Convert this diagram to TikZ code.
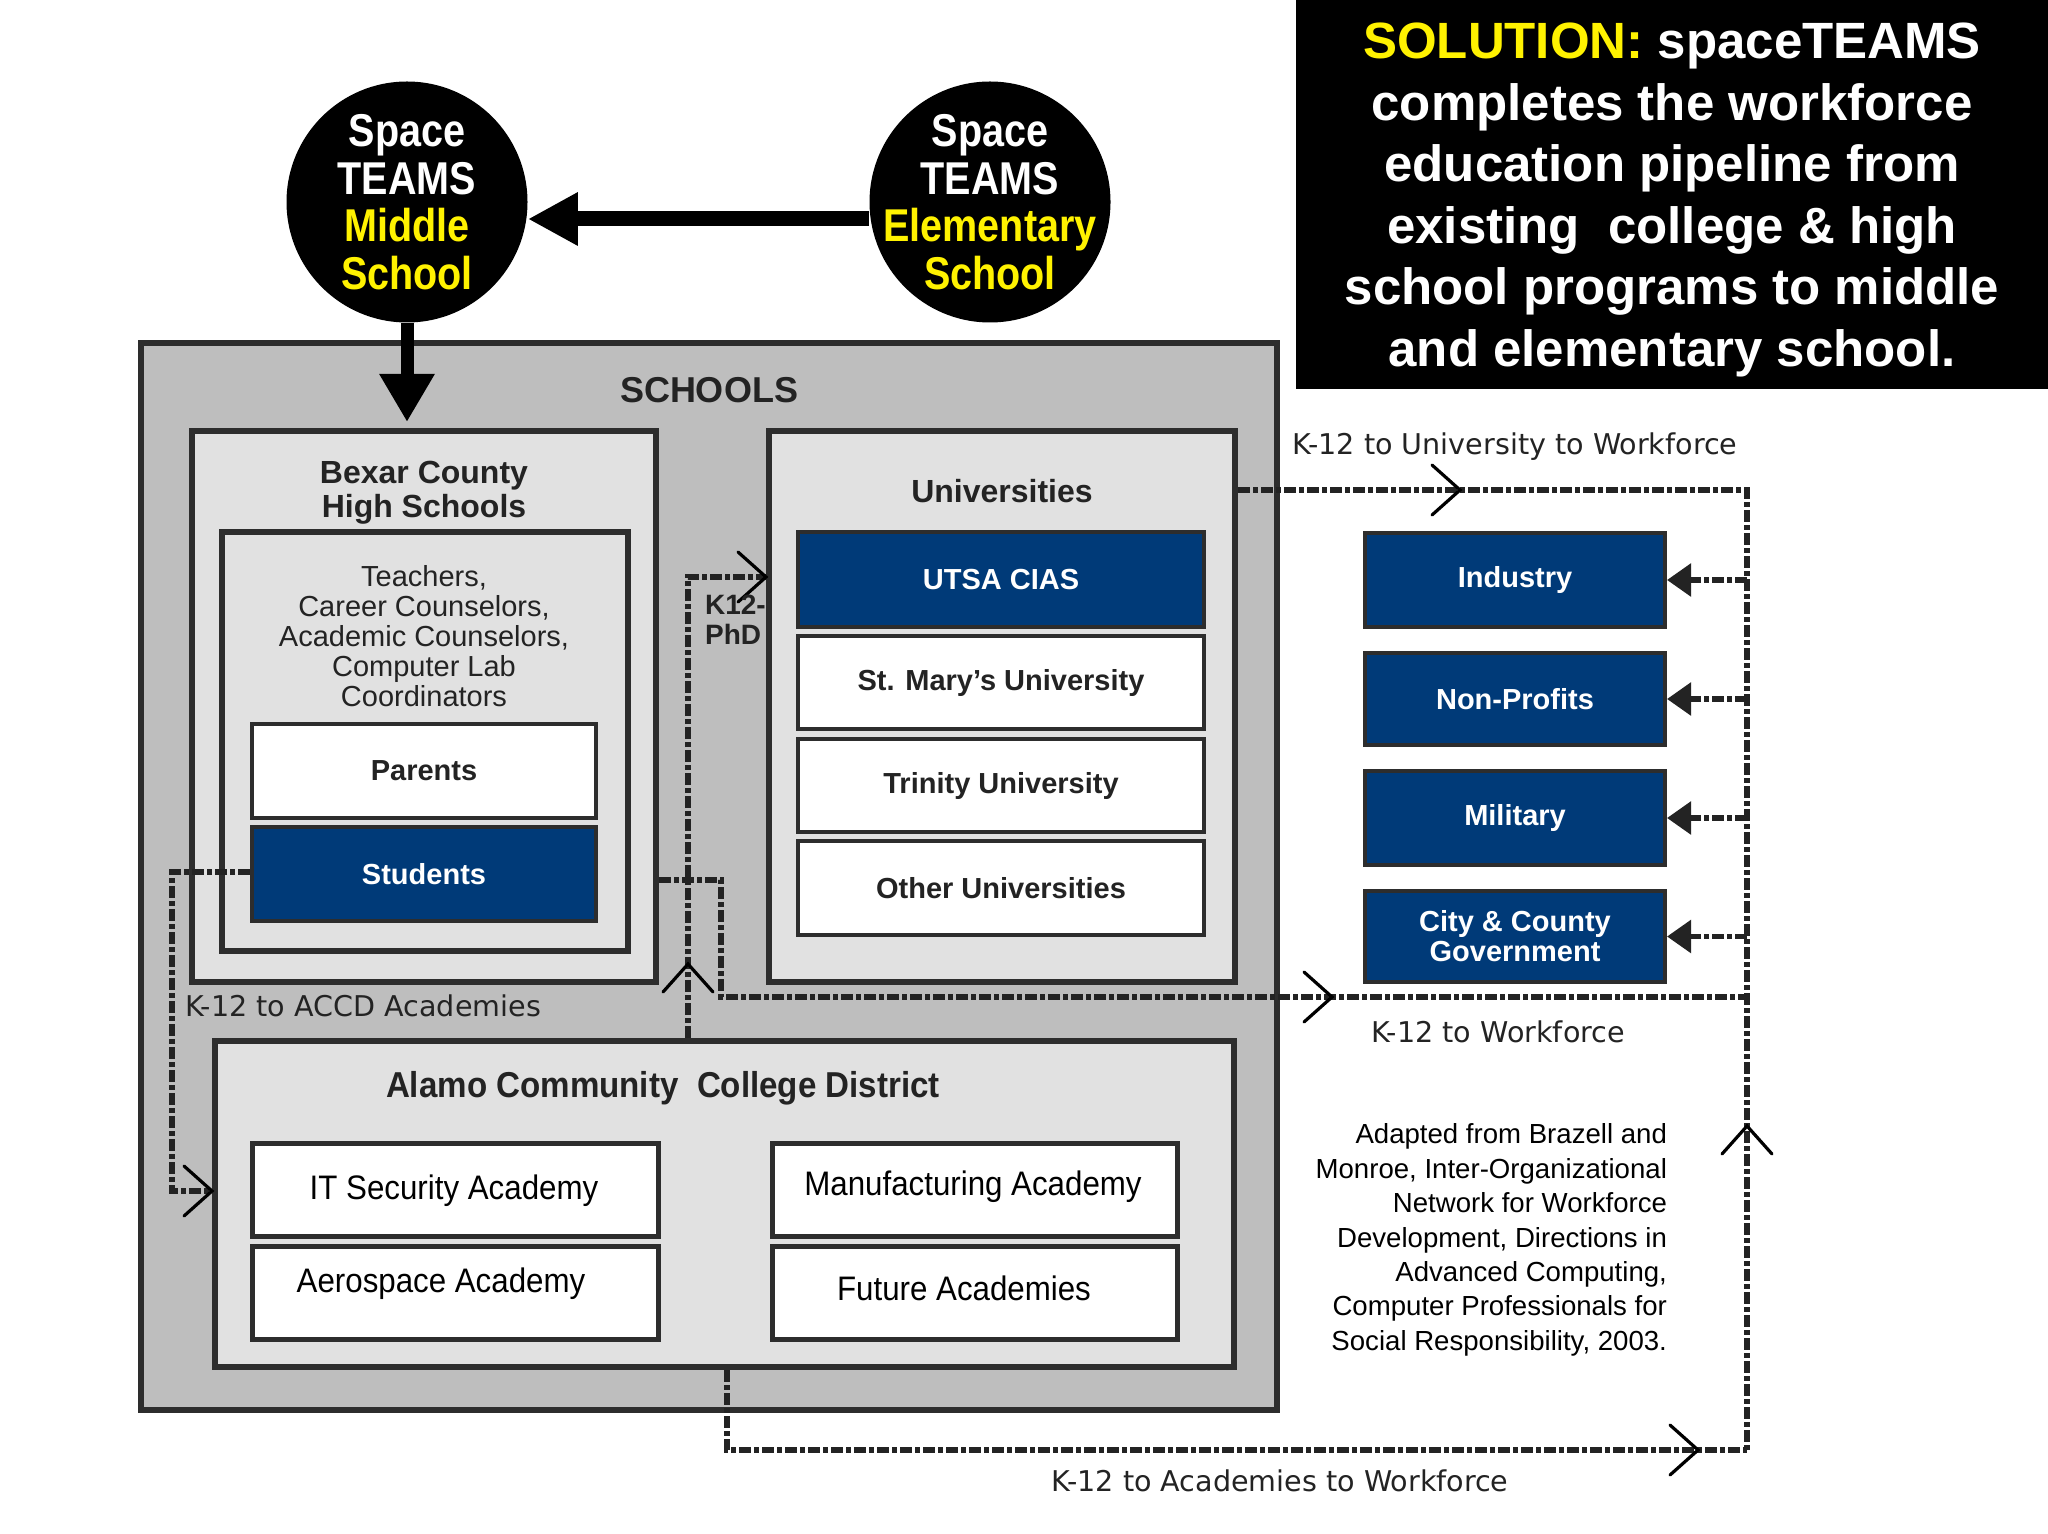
\documentclass[tikz,border=0pt]{standalone}
\usepackage{fontspec}
\setmainfont{Liberation Sans}
\newfontfamily\vfont{DejaVu Sans}
\newfontfamily\circfont{Liberation Sans}[FakeStretch=0.86]
\newfontfamily\acadfont{Liberation Sans}[FakeStretch=0.92]
\usetikzlibrary{arrows.meta,fit}
\definecolor{navyb}{RGB}{0,58,120}
\definecolor{grayout}{RGB}{190,190,190}
\definecolor{graylt}{RGB}{225,225,225}
\definecolor{edgec}{RGB}{45,45,45}
\definecolor{ink}{RGB}{35,35,35}
\tikzset{
  x=0.5pt, y=-0.5pt,
  bx/.style={draw=edgec, inner sep=0pt},
  frm/.style={bx, line width=3pt, fill=graylt},
  wbox/.style={bx, fill=white, line width=2pt},
  nbox/.style={bx, fill=navyb, line width=2pt},
  wtext/.style={text=ink, font=\bfseries\fontsize{14.5}{15}\selectfont, align=center},
  ntext/.style={text=white, font=\bfseries\fontsize{14.5}{15}\selectfont, align=center},
  abox/.style={bx, fill=white, line width=2.5pt},
  atext/.style={text=black, font=\acadfont\fontsize{17}{18}\selectfont},
  hdr/.style={text=ink, font=\bfseries\fontsize{16}{17}\selectfont, align=center},
  lbl/.style={text=ink, font=\vfont\fontsize{14.3}{15}\selectfont},
  circ/.style={circle, fill=black, inner sep=0pt, minimum size=120.5pt},
  circtext/.style={text=white, align=center, font=\circfont\bfseries\fontsize{23}{23.75}\selectfont},
  bigarrow/.style={draw=black, line width=7.5pt, -{Triangle[length=25pt,width=25pt]}},
  downarrow/.style={draw=black, line width=6.5pt, -{Triangle[length=24pt,width=26pt]}},
  dline/.style={draw=ink, line width=2.8pt, dash pattern=on 6pt off 1.5pt on 2.5pt off 1.5pt},
  feed/.style={dline, -{Triangle[length=12pt,width=16pt]}},
  chevline/.style={draw=black, line width=1.6pt, line cap=round, solid},
  chev/.pic={\draw[chevline] (-28,-25) -- (0,0) -- (-28,25);}
}
\begin{document}
\begin{tikzpicture}
\useasboundingbox (0,0) rectangle (2048,1534);
\fill[white] (0,0) rectangle (2048,1534);

% Solution box
\node[fill=black, inner sep=0pt, fit={(1296,0) (2048,389)}] (sol) {};
\node[text=white, align=center, font=\bfseries\fontsize{25.5}{30.75}\selectfont] (soltext) at (1672,200)
  {\textcolor{yellow}{SOLUTION:} spaceTEAMS\\completes the workforce\\education pipeline from\\existing\ \ college \& high\\school programs to middle\\and elementary school.};

% Schools frame
\node[bx, line width=3pt, fill=grayout, fit={(141,343) (1277,1410)}] (schools) {};
\node[text=ink, font=\bfseries\fontsize{18}{20}\selectfont] (schoolslbl) at (709,390) {SCHOOLS};

% Bexar county
\node[frm, fit={(192,431) (656,982)}] (bexar) {};
\node[hdr] (bexarlbl) at (424,493) {Bexar County\\High Schools};
\node[frm, fit={(222,532) (628,951)}] (staff) {};
\node[text=ink, align=center, font=\fontsize{14.5}{15}\selectfont] (stafflbl) at (424,636)
  {Teachers,\\Career Counselors,\\Academic Counselors,\\Computer Lab\\Coordinators};
\node[wbox, fit={(252,724) (596,818)}] (parents) {};
\node[wtext] at (parents.center) {Parents};
\node[nbox, fit={(252,827) (596,921)}] (students) {};
\node[ntext] at (students.center) {Students};

% Universities
\node[frm, fit={(769,431) (1235,982)}] (univ) {};
\node[hdr] (univlbl) at (1002,491) {Universities};
\node[nbox, fit={(798,532) (1204,627)}] (utsa) {};
\node[ntext] at (utsa.center) {UTSA CIAS};
\node[wbox, fit={(798,636) (1204,729)}] (stm) {};
\node[wtext] at (stm.center) {St. Mary’s University};
\node[wbox, fit={(798,739) (1204,832)}] (trin) {};
\node[wtext] at (trin.center) {Trinity University};
\node[wbox, fit={(798,841) (1204,935)}] (other) {};
\node[wtext] at (other.center) {Other Universities};

% ACCD
\node[frm, fit={(215,1041) (1234,1367)}] (accd) {};
\node[text=ink, font=\acadfont\bfseries\fontsize{18}{20}\selectfont] (accdlbl) at (663,1088) {Alamo Community\ \ College District};
\node[abox, fit={(252,1143) (658,1236)}] (itsec) {};
\node[atext] (itsectext) at (454,1191) {IT Security Academy};
\node[abox, fit={(252,1246) (658,1339)}] (aero) {};
\node[atext] (aerotext) at (441,1284) {Aerospace Academy};
\node[abox, fit={(772,1143) (1177,1236)}] (manu) {};
\node[atext] (manutext) at (973,1187) {Manufacturing Academy};
\node[abox, fit={(772,1246) (1177,1339)}] (future) {};
\node[atext] (futuretext) at (964,1288) {Future Academies};

% Workforce boxes
\node[nbox, fit={(1365,533) (1665,627)}] (ind) {};
\node[ntext] at (ind.center) {Industry};
\node[nbox, fit={(1365,653) (1665,745)}] (np) {};
\node[ntext] at (np.center) {Non-Profits};
\node[nbox, fit={(1365,771) (1665,865)}] (mil) {};
\node[ntext] at (mil.center) {Military};
\node[nbox, fit={(1365,891) (1665,982)}] (city) {};
\node[ntext] at (city.center) {City \& County\\Government};

% Circles
\node[circ] (mid) at (407,202) {};
\node[circtext] (midtext) at (mid) {Space\\TEAMS\\\textcolor{yellow}{Middle}\\\textcolor{yellow}{School}};
\node[circ] (elem) at (990,202) {};
\node[circtext] (elemtext) at (elem) {Space\\TEAMS\\\textcolor{yellow}{Elementary}\\\textcolor{yellow}{School}};
\draw[bigarrow] ([yshift=-8.5pt]elem.west) -- ([yshift=-8.5pt]mid.east);
\draw[downarrow] (mid.south) -- ([yshift=3pt]mid.south |- bexar.north);

% Dashed connectors
\coordinate (busT) at (1747,490);
\coordinate (busB) at (1747,1450);
\draw[dline] (univ.east |- busT) -- (busT) -- (busB);
\foreach \b in {ind,np,mil,city}{
  \draw[feed] (busT |- \b.east) -- (\b.east);
}
\coordinate (kw1) at (721,880);
\coordinate (kw2) at (721,997);
\draw[dline] (bexar.east |- kw1) -- (kw1) -- (kw2) -- (kw2 -| busT);
\coordinate (kp) at (688,577);
\draw[dline] (accd.north -| kp) -- (kp) -- (kp -| univ.west);
\coordinate (ka1) at (172,872);
\coordinate (ka2) at (172,1191);
\draw[dline] (students.west |- ka1) -- (ka1) -- (ka2) -- (ka2 -| accd.west);
\coordinate (kaw) at (727,1450);
\draw[dline] (accd.south -| kaw) -- (kaw) -- (busB);

% Chevrons
\pic at (1460,490) {chev};
\pic at (1332,997) {chev};
\pic at (kp -| univ.west) {chev};
\pic[rotate=90] at (688,964) {chev};
\pic at (ka2 -| accd.west) {chev};
\pic at (1698,1450) {chev};
\pic[rotate=90] at (1747,1126) {chev};

% Labels
\node[lbl] (l1) at (1515,447) {K-12 to University to Workforce};
\node[lbl] (l2) at (1498,1032) {K-12 to Workforce};
\node[lbl, anchor=west] (l3) at (178,1006) {K-12 to ACCD Academies};
\node[lbl] (l4) at (1280,1481) {K-12 to Academies to Workforce};
\node[text=ink, align=left, anchor=west, font=\bfseries\fontsize{14}{15}\selectfont] (l5) at (698,620) {K12-\\PhD};

\node[text=black, align=right, anchor=east, font=\fontsize{13.8}{17.2}\selectfont] (cite) at (1674,1240)
  {Adapted from Brazell and\\Monroe, Inter-Organizational\\Network for Workforce\\Development, Directions in\\Advanced Computing,\\Computer Professionals for\\Social Responsibility, 2003.};
\end{tikzpicture}
\end{document}
